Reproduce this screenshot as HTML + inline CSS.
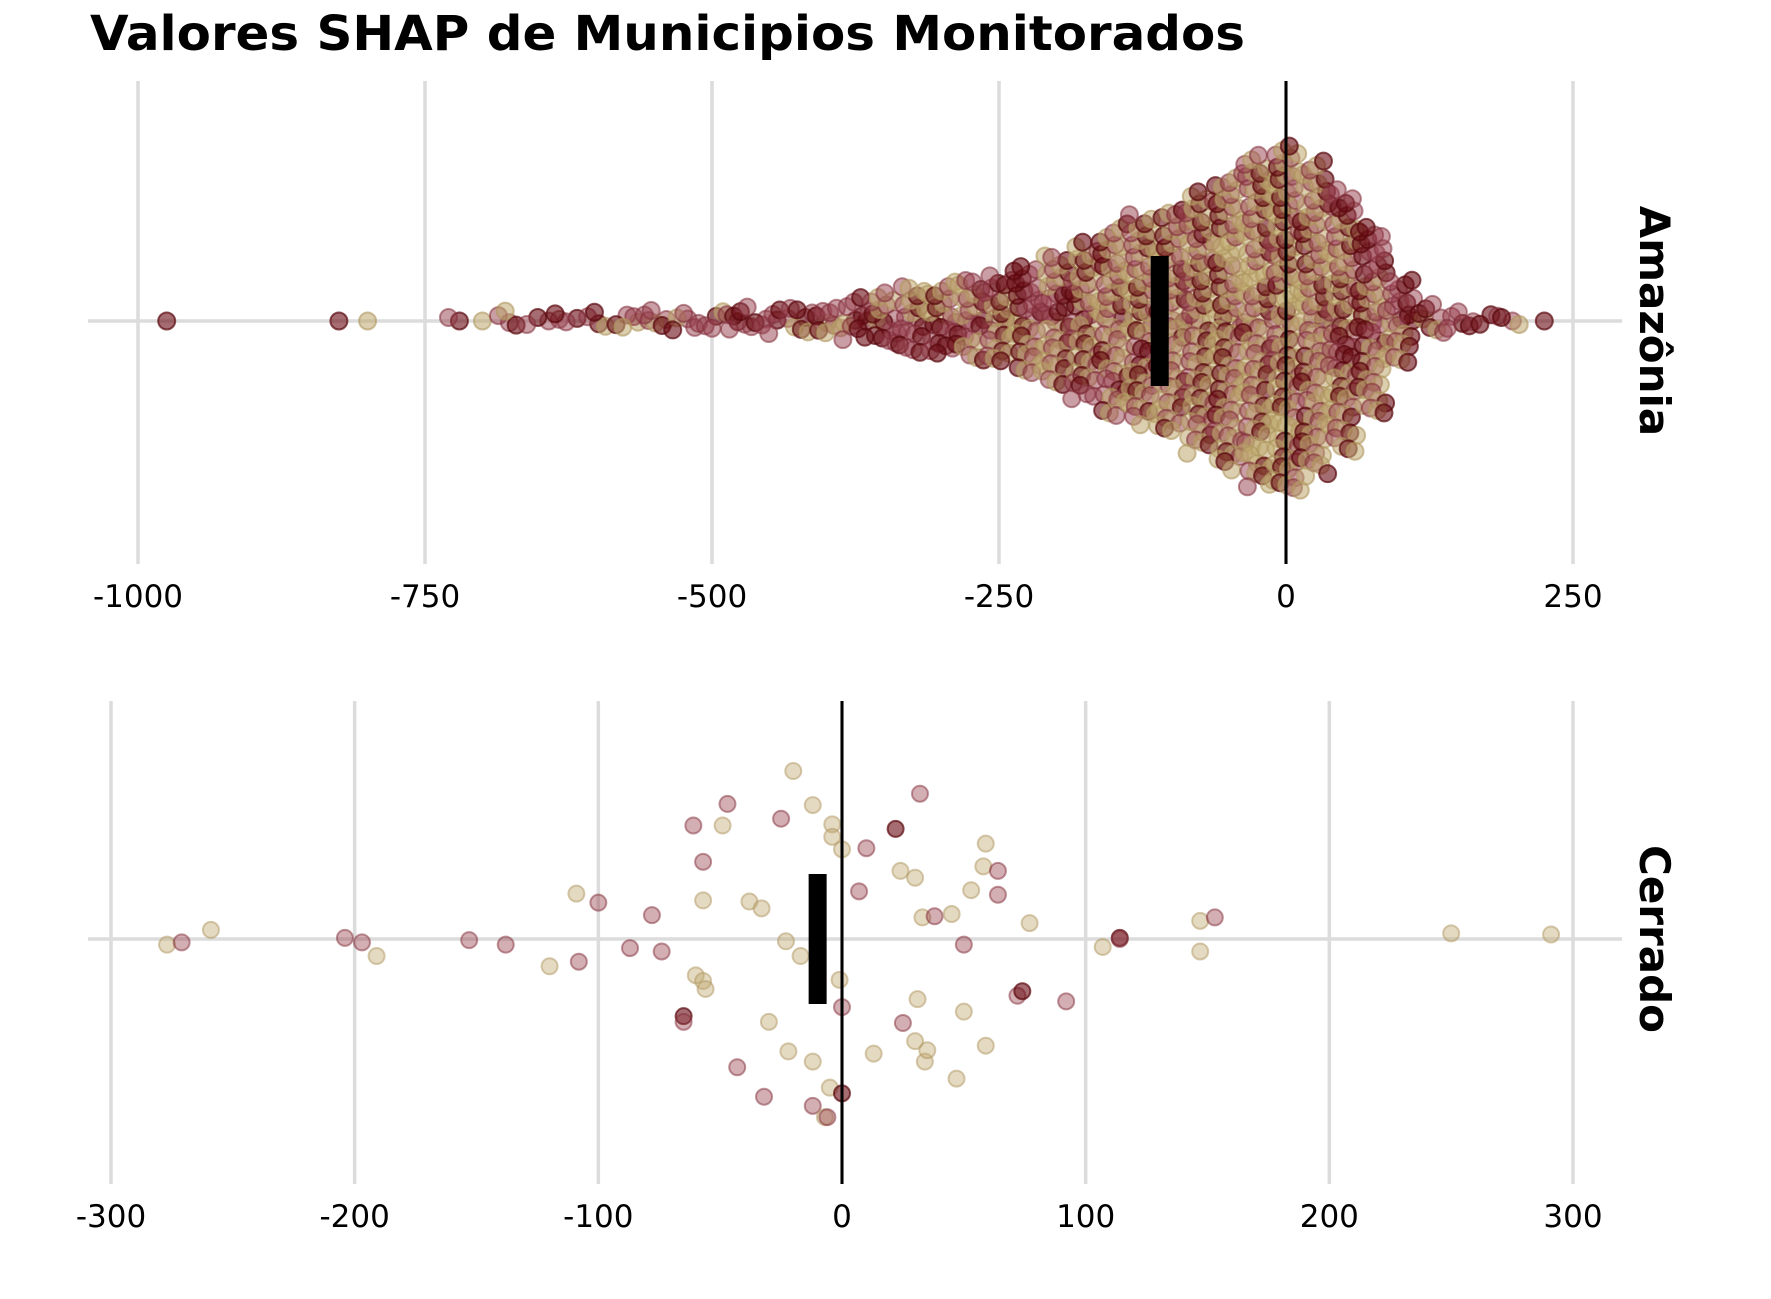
<!DOCTYPE html>
<html><head><meta charset="utf-8"><style>
html,body{margin:0;padding:0;background:#fff;}
svg{display:block;}
text{font-family:"DejaVu Sans","Liberation Sans",sans-serif;}
</style></head>
<body>
<svg id="chart" width="1771" height="1299" viewBox="0 0 1771 1299" xmlns="http://www.w3.org/2000/svg">
<text x="90" y="50" font-size="48" font-weight="bold" textLength="1155" lengthAdjust="spacingAndGlyphs">Valores SHAP de Municipios Monitorados</text>
</svg>
<script>
// ---- Data: Amazônia (binned counts, bin centers every 25) ----
const amzBinCenters = [-975,-950,-925,-900,-875,-850,-825,-800,-775,-750,-725,-700,-675,-650,-625,-600,-575,-550,-525,-500,-475,-450,-425,-400,-375,-350,-325,-300,-275,-250,-225,-200,-175,-150,-125,-100,-75,-50,-25,0,25,50,75,100,125,150,175,200,225];
const amzCounts = [1,0,0,0,0,0,1,1,0,0,2,1,4,3,4,4,5,6,5,5,8,7,8,9,12,16,20,22,24,26,32,38,45,55,60,65,75,85,95,100,90,75,55,25,8,5,4,3,1];
const amzTanShare = [0,0,0,0,0,0,0,1,0,0,0,0.3,0.2,0.1,0.1,0.2,0.2,0.2,0.2,0.15,0.15,0.15,0.15,0.15,0.2,0.25,0.25,0.3,0.3,0.35,0.35,0.4,0.4,0.45,0.45,0.5,0.5,0.55,0.55,0.55,0.5,0.4,0.3,0.2,0.1,0.1,0.1,0.3,0];
const amzMean = -110;
const amzTicks = [-1000,-750,-500,-250,0,250];
const amzTickLabels = ["-1000","-750","-500","-250","0","250"];

// ---- Data: Cerrado ----
const cerValues = [-277,-271,-259,-204,-197,-191,-153,-138,-120,-109,-108,-100,-87,-78,-74,-65,-65,-61,-60,-57,-57,-56,-57,-49,-47,-43,-38,-33,-32,-30,-25,-23,-22,-20,-17,-12,-12,-12,-7,-6,-5,-4,-4,-1,0,0,0,7,10,13,22,24,25,30,30,31,33,32,34,35,38,45,47,50,50,53,58,59,59,64,64,72,74,77,92,107,114,114,147,147,153,250,291];
const cerJitter = [5,3,-8,-1,3,15,1,5,24,-40,20,-32,8,-21,11,68,73,-100,32,-68,37,44,-34,-100,-119,113,-33,-27,139,73,-106,2,99,-148,15,-118,108,147,157,157,131,-101,-90,36,-79,60,136,-42,-80,101,-97,-60,74,-54,90,53,-19,-128,108,98,-20,-22,123,5,64,-43,-64,-84,94,-60,-39,50,46,-14,55,7,-1,0,-16,11,-19,-5,-4];
const cerGroup = ["t","r","t","r","r","t","r","r","t","t","r","r","r","r","r","d","r","r","t","r","t","t","t","t","r","r","t","t","r","t","r","t","t","t","t","t","t","r","t","r","t","t","t","t","t","r","d","r","r","t","d","t","r","t","t","t","t","r","t","t","r","t","t","r","t","t","t","t","t","r","r","r","d","t","r","t","d","r","t","t","r","t","t"];
const cerMean = -10;
const cerTicks = [-300,-200,-100,0,100,200,300];
const cerTickLabels = ["-300","-200","-100","0","100","200","300"];

const svg = document.getElementById('chart');
const NS = 'http://www.w3.org/2000/svg';
function mk(tag, attrs, parent){const e=document.createElementNS(NS,tag);for(const k in attrs)e.setAttribute(k,attrs[k]);(parent||svg).appendChild(e);return e;}

const COLORS = {
  d:{fill:'rgba(105,12,18,0.6)',stroke:'rgba(90,8,14,0.7)'},
  r:{fill:'rgba(150,62,75,0.5)',stroke:'rgba(130,45,58,0.55)'},
  t:{fill:'rgba(190,168,110,0.55)',stroke:'rgba(175,150,95,0.6)'}
};
const CER_COLORS = {
  d:{fill:'rgba(105,12,18,0.6)',stroke:'rgba(90,8,14,0.7)'},
  r:{fill:'rgba(150,62,75,0.42)',stroke:'rgba(130,45,58,0.5)'},
  t:{fill:'rgba(190,168,110,0.42)',stroke:'rgba(175,150,95,0.5)'}
};

function panel(cfg){
  const g = mk('g',{});
  
  
  const xs = v => cfg.x0 + (v - cfg.d0)*(cfg.x1-cfg.x0)/(cfg.d1-cfg.d0);
  cfg.ticks.forEach((t,i)=>{
    const l = mk('line',{x1:xs(t),x2:xs(t),y1:cfg.top,y2:cfg.bottom,stroke:'#dcdcdc','stroke-width':3.5},g);
    
    
    const tx = mk('text',{x:xs(t),y:cfg.bottom+43,'font-size':31,'text-anchor':'middle',fill:'#000'},g);
    
    
    tx.textContent = cfg.tickLabels[i];
  });
  const hl = mk('line',{x1:88,x2:1622,y1:cfg.mid,y2:cfg.mid,stroke:'#dcdcdc','stroke-width':3.5},g);
  
  
  const pg = mk('g',{},g);
  
  
  cfg.drawPoints(pg, xs);
  const zl = mk('line',{x1:xs(0),x2:xs(0),y1:cfg.top,y2:cfg.bottom,stroke:'#000','stroke-width':3},g);
  
  
  const mb = mk('rect',{x:xs(cfg.mean)-9,y:cfg.mid-65,width:18,height:130,fill:'#000'},g);
  
  
  const sl = mk('text',{x:0,y:0,'font-size':42,'font-weight':'bold','text-anchor':'middle',transform:'translate(1640,'+(cfg.mid)+') rotate(90)'},g);
  
  
  sl.textContent = cfg.label;
}

panel({name:'amazonia',label:'Amazônia',x0:138,x1:1573,d0:-1000,d1:250,top:81,bottom:564,mid:321,
  ticks:amzTicks,tickLabels:amzTickLabels,mean:amzMean,
  drawPoints:(pg,xs)=>{
    amzBinCenters.forEach((c,i)=>{
      const n = amzCounts[i];
      for(let j=0;j<n;j++){
        const frac = n===1?0.5:((j*0.6180339+i*0.37)%1);
        const v = c + 25*(frac-0.5);
        const sgn = j%2===0?1:-1;
        const jit = n>3 ? (((j*0.4142+i*0.731)%1)-0.5)*6 : 0;
        const off = sgn*3.5*Math.ceil(j/2) + jit;
        const h = (j*0.7548776+i*0.5698)%1;
        let grp = h < amzTanShare[i] ? 't' : (((j*0.381966+i*0.21)%1)<0.45?'d':'r');
        const col = COLORS[grp];
        const p = mk('circle',{cx:xs(v),cy:321+off,r:8.5,fill:col.fill,stroke:col.stroke,'stroke-width':2},pg);
        
        
      }
    });
  }});

panel({name:'cerrado',label:'Cerrado',x0:111,x1:1573,d0:-300,d1:300,top:701,bottom:1184,mid:939,
  ticks:cerTicks,tickLabels:cerTickLabels,mean:cerMean,
  drawPoints:(pg,xs)=>{
    cerValues.forEach((v,i)=>{
      const col = CER_COLORS[cerGroup[i]];
      const p = mk('circle',{cx:xs(v),cy:939+cerJitter[i]*1.135,r:8,fill:col.fill,stroke:col.stroke,'stroke-width':2},pg);
      
      
    });
  }});
</script>
</body></html>
